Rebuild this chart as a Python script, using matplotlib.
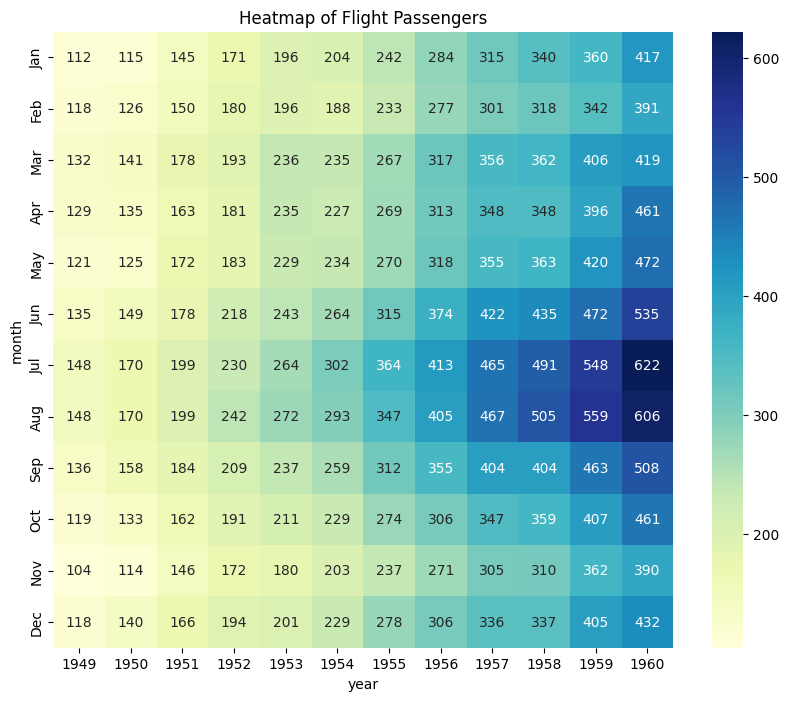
import numpy as np
import pandas as pd
import seaborn as sns
from matplotlib import pyplot as plt

months = ["Jan", "Feb", "Mar", "Apr", "May", "Jun", "Jul", "Aug", "Sep", "Oct", "Nov", "Dec"]
years = [1949, 1950, 1951, 1952, 1953, 1954, 1955, 1956, 1957, 1958, 1959, 1960]

# passengers per year, Jan..Dec
p1949 = [112, 118, 132, 129, 121, 135, 148, 148, 136, 119, 104, 118]
p1950 = [115, 126, 141, 135, 125, 149, 170, 170, 158, 133, 114, 140]
p1951 = [145, 150, 178, 163, 172, 178, 199, 199, 184, 162, 146, 166]
p1952 = [171, 180, 193, 181, 183, 218, 230, 242, 209, 191, 172, 194]
p1953 = [196, 196, 236, 235, 229, 243, 264, 272, 237, 211, 180, 201]
p1954 = [204, 188, 235, 227, 234, 264, 302, 293, 259, 229, 203, 229]
p1955 = [242, 233, 267, 269, 270, 315, 364, 347, 312, 274, 237, 278]
p1956 = [284, 277, 317, 313, 318, 374, 413, 405, 355, 306, 271, 306]
p1957 = [315, 301, 356, 348, 355, 422, 465, 467, 404, 347, 305, 336]
p1958 = [340, 318, 362, 348, 363, 435, 491, 505, 404, 359, 310, 337]
p1959 = [360, 342, 406, 396, 420, 472, 548, 559, 463, 407, 362, 405]
p1960 = [417, 391, 419, 461, 472, 535, 622, 606, 508, 461, 390, 432]

cols = [p1949, p1950, p1951, p1952, p1953, p1954, p1955, p1956, p1957, p1958, p1959, p1960]
df = pd.DataFrame(np.array(cols).T, index=months, columns=years)
df.index.name = "month"
df.columns.name = "year"

plt.figure(figsize=(10, 8))
sns.heatmap(df, annot=True, fmt="d", cmap="YlGnBu")
plt.title("Heatmap of Flight Passengers")
plt.savefig("out.png", dpi=100, bbox_inches="tight")
